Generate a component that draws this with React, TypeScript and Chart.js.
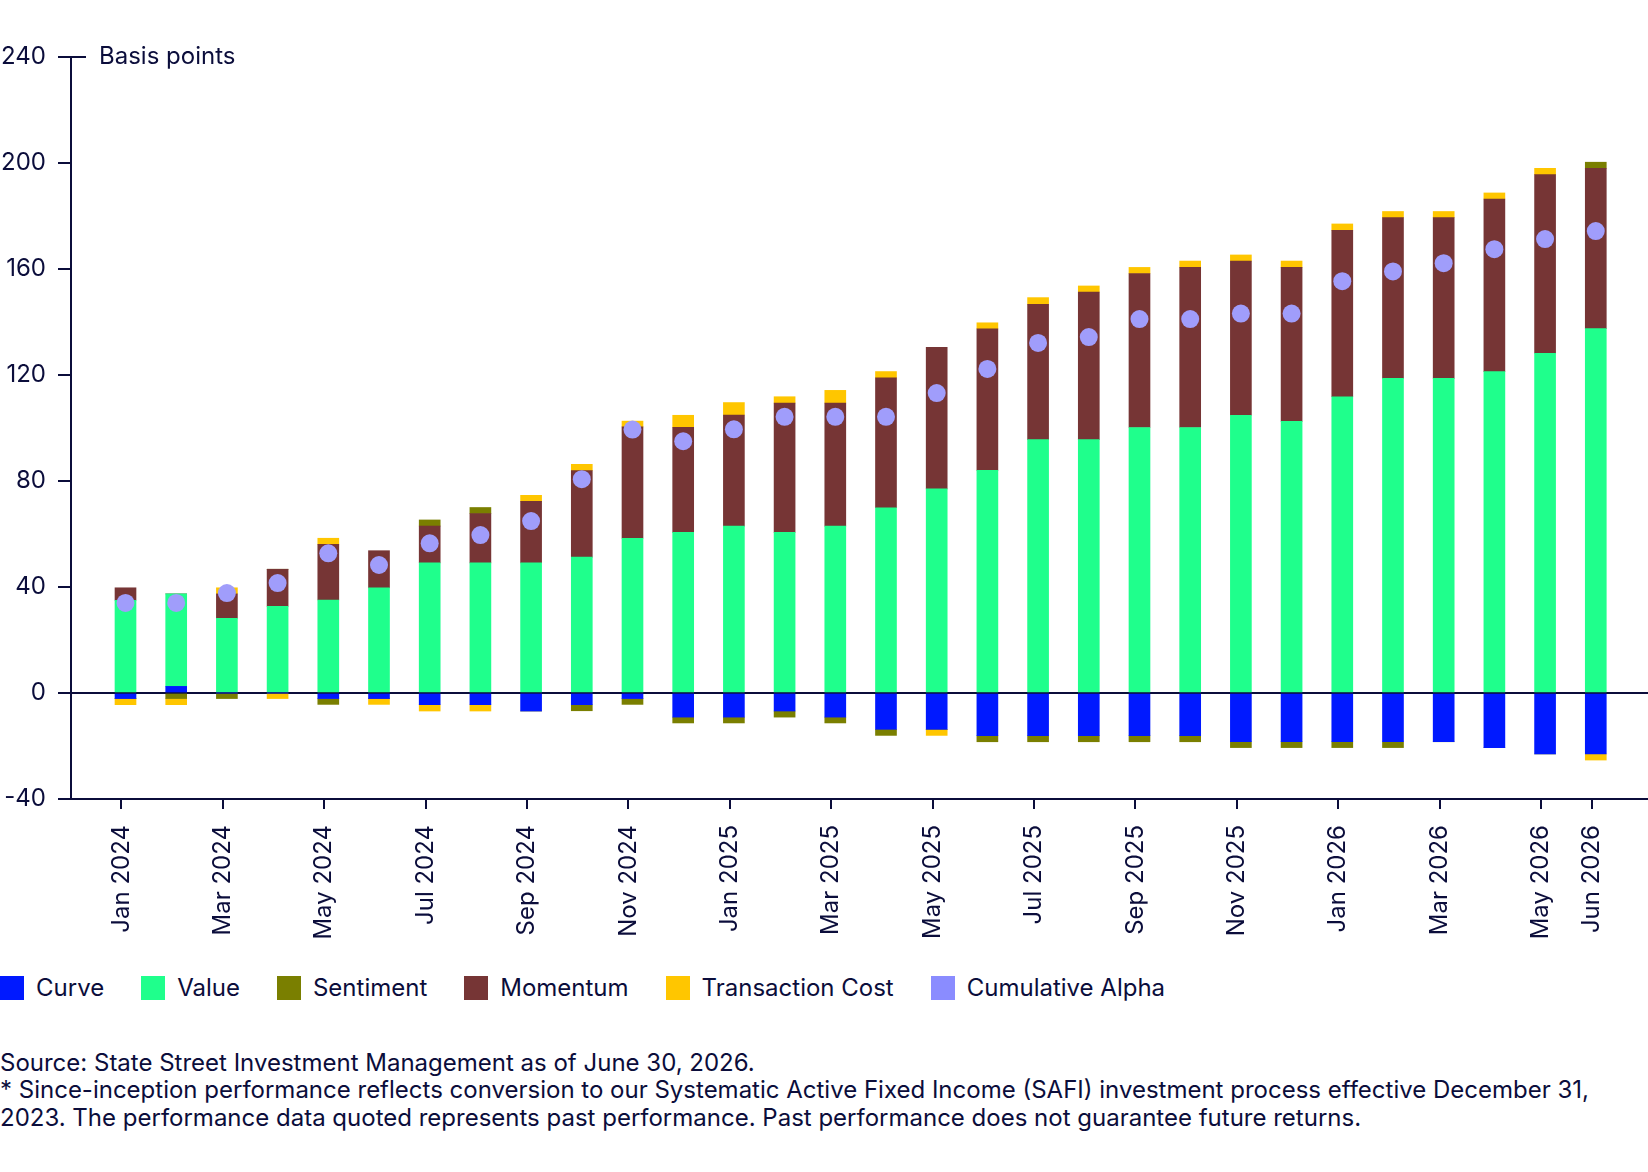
import { useEffect, useRef } from 'react';
import { Chart, registerables } from 'chart.js';

Chart.register(...registerables);

const NAVY = '#0b0d3b';
const FONT = 'Inter, "Noto Sans", sans-serif';

const months = [
  'Jan 2024', 'Feb 2024', 'Mar 2024', 'Apr 2024', 'May 2024', 'Jun 2024',
  'Jul 2024', 'Aug 2024', 'Sep 2024', 'Oct 2024', 'Nov 2024', 'Dec 2024',
  'Jan 2025', 'Feb 2025', 'Mar 2025', 'Apr 2025', 'May 2025', 'Jun 2025',
  'Jul 2025', 'Aug 2025', 'Sep 2025', 'Oct 2025', 'Nov 2025', 'Dec 2025',
  'Jan 2026', 'Feb 2026', 'Mar 2026', 'Apr 2026', 'May 2026', 'Jun 2026',
];

// months that get a label on the x axis
const labelledMonths = [0, 2, 4, 6, 8, 10, 12, 14, 16, 18, 20, 22, 24, 26, 28, 29];

const curve = [
  -2.1, 2.5, 0, 0, -2.1, -2.1, -4.4, -4.4, -6.8, -4.4, -2.1, -9.1,
  -9.1, -6.8, -9.1, -13.7, -13.7, -16.1, -16.1, -16.1, -16.1, -16.1, -18.4, -18.4,
  -18.4, -18.4, -18.4, -20.6, -23.0, -23.0,
];
const value = [
  35.0, 34.9, 28.2, 32.7, 35.1, 39.7, 49.1, 49.1, 49.1, 51.3, 58.4, 60.6,
  63.0, 60.6, 63.0, 69.9, 77.0, 84.0, 95.6, 95.6, 100.2, 100.2, 104.8, 102.5,
  111.8, 118.7, 118.7, 121.3, 128.2, 137.5,
];
const sentiment = [
  0, -2.1, -2.1, 0, -2.2, 0, 2.3, 2.3, 0, -2.3, -2.2, -2.2,
  -2.2, -2.3, -2.2, -2.3, 0, -2.3, -2.3, -2.3, -2.3, -2.3, -2.2, -2.2,
  -2.2, -2.2, 0, 0, 0, 2.3,
];
const momentum = [
  4.7, 0, 9.2, 14.0, 21.0, 14.0, 13.9, 18.6, 23.2, 32.6, 42.0, 39.7,
  41.9, 48.8, 46.4, 49.0, 53.4, 53.4, 51.1, 55.7, 58.1, 60.4, 58.2, 58.1,
  62.8, 60.7, 60.7, 65.1, 67.4, 60.5,
];
const transactionCost = [
  -2.3, -2.3, 2.3, -2.1, 2.3, -2.2, -2.4, -2.4, 2.3, 2.4, 2.2, 4.5,
  4.7, 2.4, 4.8, 2.4, -2.3, 2.3, 2.5, 2.3, 2.3, 2.4, 2.3, 2.4,
  2.4, 2.3, 2.3, 2.3, 2.4, -2.3,
];
const cumulativeAlpha = [
  34.0, 34.0, 37.7, 41.5, 52.7, 48.3, 56.5, 59.6, 64.9, 80.7, 99.4, 95.0,
  99.5, 104.2, 104.2, 104.2, 113.2, 122.3, 132.1, 134.3, 141.1, 141.1, 143.2, 143.2,
  155.4, 159.1, 162.2, 167.5, 171.3, 174.3,
];

const yTicks = [-40, 0, 40, 80, 120, 160, 200, 240];

const legendItems = [
  { label: 'Curve', color: '#0019ff' },
  { label: 'Value', color: '#1fff8c' },
  { label: 'Sentiment', color: '#7a7f00' },
  { label: 'Momentum', color: '#763535' },
  { label: 'Transaction Cost', color: '#ffc600' },
  { label: 'Cumulative Alpha', color: '#8a8cff' },
];

const TICK_SHIFT = -0.08;

const toPoints = (arr: number[]) => arr.map((v, i) => ({ x: i, y: v }));

document.body.style.margin = '0';

const basisPointsLabel = {
  id: 'basisPointsLabel',
  afterDraw(chart: any) {
    const { ctx, chartArea, scales } = chart;
    const y = scales.y.getPixelForValue(240);
    ctx.save();
    ctx.strokeStyle = NAVY;
    ctx.lineWidth = 2;
    ctx.beginPath();
    ctx.moveTo(chartArea.left, y);
    ctx.lineTo(chartArea.left + 15, y);
    ctx.stroke();
    ctx.fillStyle = NAVY;
    ctx.font = `24px ${FONT}`;
    ctx.textBaseline = 'middle';
    ctx.fillText('Basis points', chartArea.left + 28, y);
    ctx.restore();
  },
};

function AlphaChart() {
  const canvasRef = useRef<HTMLCanvasElement>(null);

  useEffect(() => {
    if (!canvasRef.current) return;

    const barSet = (label: string, data: number[], color: string) => ({
      type: 'bar' as const,
      label,
      data: toPoints(data),
      backgroundColor: color,
      borderWidth: 0,
      barThickness: 21,
      stack: 'bars',
      order: 1,
    });

    const chart = new Chart(canvasRef.current, {
      type: 'bar',
      data: {
        datasets: [
          barSet('Curve', curve, '#0019ff'),
          barSet('Value', value, '#1fff8c'),
          barSet('Momentum', momentum, '#763535'),
          barSet('Sentiment', sentiment, '#7a7f00'),
          barSet('Transaction Cost', transactionCost, '#ffc600'),
          {
            type: 'line' as const,
            label: 'Cumulative Alpha',
            data: toPoints(cumulativeAlpha),
            showLine: false,
            backgroundColor: '#8a8cff',
            pointBackgroundColor: '#a09dfb',
            pointBorderWidth: 0,
            pointRadius: 9,
            stack: 'alpha',
            order: 0,
          } as any,
        ],
      },
      options: {
        responsive: true,
        maintainAspectRatio: false,
        animation: false,
        layout: { autoPadding: false, padding: { top: 57, left: 0, right: 0, bottom: 0 } },
        plugins: {
          legend: { display: false },
          tooltip: { enabled: false },
        },
        scales: {
          x: {
            type: 'linear',
            stacked: true,
            offset: false,
            min: -1.075,
            max: 30.03,
            afterBuildTicks: (scale: any) => {
              scale.ticks = labelledMonths.map((i) => ({ value: i + TICK_SHIFT }));
            },
            afterFit: (scale: any) => {
              scale.height = 146;
              scale.paddingLeft = 0;
              scale.paddingRight = 0;
            },
            ticks: {
              autoSkip: false,
              minRotation: 90,
              maxRotation: 90,
              padding: 16,
              color: NAVY,
              font: { family: FONT, size: 24 },
              callback: (v: any) => months[Math.round(Number(v))],
            },
            grid: {
              offset: false,
              drawOnChartArea: false,
              drawTicks: true,
              tickLength: 10,
              tickColor: NAVY,
              lineWidth: 2,
            },
            border: { display: true, color: NAVY, width: 2 },
          },
          y: {
            stacked: true,
            min: -40,
            max: 240,
            afterBuildTicks: (scale: any) => {
              scale.ticks = yTicks.map((v) => ({ value: v }));
            },
            afterFit: (scale: any) => {
              scale.width = 71;
            },
            ticks: {
              padding: 12,
              color: NAVY,
              font: { family: FONT, size: 24 },
            },
            grid: {
              color: (c: any) => (c.tick && c.tick.value === 0 ? NAVY : 'transparent'),
              tickColor: NAVY,
              tickLength: 13,
              lineWidth: 2,
            },
            border: { display: true, color: NAVY, width: 2 },
          },
        },
      },
      plugins: [basisPointsLabel],
    } as any);

    return () => chart.destroy();
  }, []);

  return (
    <div style={{ position: 'relative', width: '100%', height: 945 }}>
      <canvas ref={canvasRef} />
    </div>
  );
}

export default function App() {
  return (
    <div style={{ fontFamily: FONT, color: NAVY, width: 1648, background: '#fff' }}>
      <AlphaChart />
      <div style={{ display: 'flex', alignItems: 'center', marginTop: 31, height: 24 }}>
        {legendItems.map((item) => (
          <div key={item.label} style={{ display: 'flex', alignItems: 'center', marginRight: 37 }}>
            <span style={{ width: 24, height: 24, background: item.color, display: 'inline-block', marginRight: 12 }} />
            <span style={{ fontSize: 24, lineHeight: '24px' }}>{item.label}</span>
          </div>
        ))}
      </div>
      <div style={{ marginTop: 49, fontSize: 24, lineHeight: '27.3px' }}>
        <div>Source: State Street Investment Management as of June 30, 2026.</div>
        <div>
          * Since-inception performance reflects conversion to our Systematic Active Fixed Income (SAFI) investment process effective December 31,
          <br />
          2023. The performance data quoted represents past performance. Past performance does not guarantee future returns.
        </div>
      </div>
    </div>
  );
}
